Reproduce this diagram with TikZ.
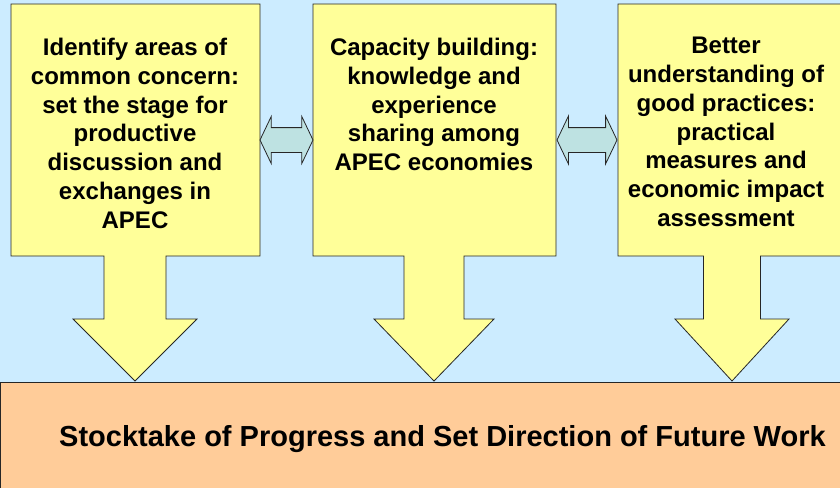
\documentclass[tikz,border=0pt]{standalone}
\usepackage{fontspec}
\setmainfont{Liberation Sans}
\usetikzlibrary{shapes.arrows, positioning}
\definecolor{skyback}{HTML}{CCECFF}
\definecolor{padyellow}{HTML}{FFFF99}
\definecolor{baseorange}{HTML}{FFCC99}
\definecolor{linkteal}{HTML}{BEE2E2}
\tikzset{
	callout/.style={draw=black!85, fill=padyellow, line width=0.8pt, line join=miter},
	boxtext/.style={font=\fontsize{24}{28.8}\selectfont\bfseries, align=center, anchor=north, inner sep=0pt},
	linkarrow/.style={double arrow, draw=black!85, fill=linkteal, line width=0.8pt,
		inner xsep=0pt, inner ysep=12pt, double arrow head extend=11pt, double arrow tip angle=129},
}
% left edge, right edge, tip x, half shaft width
\newcommand{\downCallout}[4]{
	\draw[callout] (#1,4) -- (#2,4) -- (#2,256) -- (#3+#4,256) -- (#3+#4,319)
		-- (#3+2*#4,319) -- (#3,381) -- (#3-2*#4,319) -- (#3-#4,319)
		-- (#3-#4,256) -- (#1,256) -- cycle;
}

\begin{document}
\begin{tikzpicture}[x=1pt, y=-1pt]
	\clip (0,0) rectangle (840,487);
	\fill[skyback] (0,0) rectangle (840,487);

	% Three callouts
	\downCallout{11}{260}{135}{31}
	\downCallout{313}{556}{434}{30}
	\downCallout{618}{862}{732}{28.5}
	\node[boxtext] (concern) at (135,38) {Identify areas of\\common concern:\\set the stage for\\productive\\discussion and\\exchanges in\\APEC};
	\node[boxtext] (capacity) at (434,38) {Capacity building:\\knowledge and\\experience\\sharing among\\APEC economies};
	\node[boxtext] (practices) at (726,37) {Better\\understanding of\\good practices:\\practical\\measures and\\economic impact\\assessment};

	% Links between callouts
	\node[linkarrow, minimum height=53pt] (linkA) at (286.5,140) {};
	\node[linkarrow, minimum height=60pt, double arrow head extend=11.5pt] (linkB) at (587,140) {};

	% Base box
	\draw[fill=baseorange, draw=black!85, line width=0.8pt] (0.5,382) rectangle (850,500);
	\node[font=\fontsize{29}{34}\selectfont\bfseries, anchor=base, inner sep=0pt] (stocktake) at (442.5,446) {Stocktake of Progress and Set Direction of Future Work};
\end{tikzpicture}
\end{document}
